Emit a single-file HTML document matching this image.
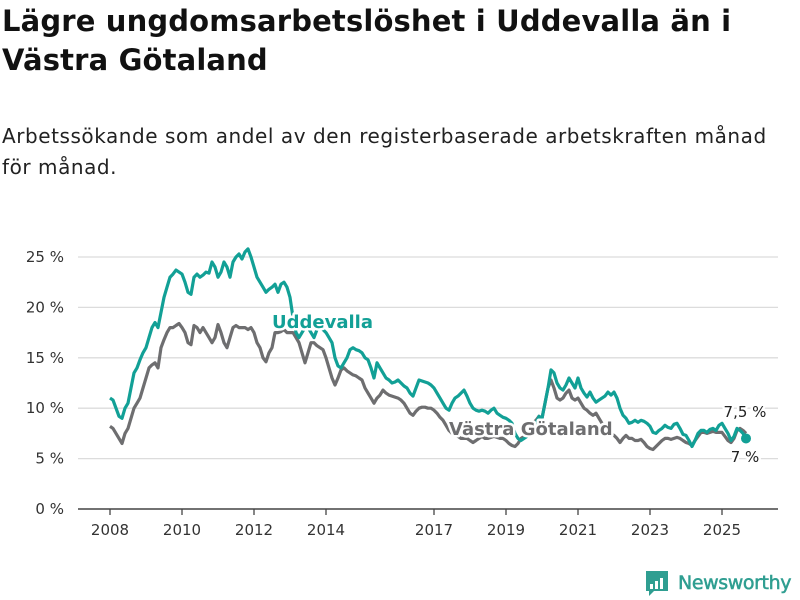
<!DOCTYPE html>
<html><head><meta charset="utf-8">
<style>
body{margin:0;background:#fff;width:800px;height:600px;overflow:hidden;font-family:"Liberation Sans","DejaVu Sans",sans-serif;}
#title{position:absolute;left:2px;top:2px;font-size:29px;font-weight:bold;line-height:39px;color:#111;margin:0;width:790px;font-family:"DejaVu Sans","Liberation Sans",sans-serif;letter-spacing:0.15px}
#subtitle{position:absolute;left:2px;top:121px;font-size:20px;line-height:31px;color:#222;margin:0;width:790px;font-family:"DejaVu Sans","Liberation Sans",sans-serif;letter-spacing:0.55px}
svg{position:absolute;left:0;top:0}
</style></head><body>
<h1 id="title">Lägre ungdomsarbetslöshet i Uddevalla än i Västra Götaland</h1>
<p id="subtitle">Arbetssökande som andel av den registerbaserade arbetskraften månad för månad.</p>
<svg id="chart" width="800" height="600"></svg>
<script>
const startYear = 2008;
const yTicks = [0,5,10,15,20,25];
const xTickYears = [2008,2010,2012,2014,2017,2019,2021,2023,2025];
const uddevalla = [
11,10.8,10,9.2,9,10,10.5,12,13.5,14,14.8,15.5,
16,17,18,18.5,18,19.5,21,22,23,23.3,23.7,23.5,
23.3,22.5,21.5,21.3,23,23.3,23,23.2,23.5,23.4,24.5,24,
23,23.5,24.5,24,23,24.5,25,25.3,24.8,25.5,25.8,25,
24,23,22.5,22,21.5,21.8,22,22.3,21.5,22.3,22.5,22,
21,19,17.5,17,17.5,18,18,17.5,17,17.8,18,17.8,
17.5,17,16.5,15,14.2,14,14.5,15,15.8,16,15.8,15.7,
15.5,15,14.8,14,13,14.5,14,13.5,13,12.8,12.5,12.6,
12.8,12.5,12.2,12,11.5,11.2,12,12.8,12.7,12.6,12.5,12.3,
12,11.5,11,10.5,10,9.8,10.5,11,11.2,11.5,11.8,11.2,
10.5,10,9.8,9.7,9.8,9.7,9.5,9.8,10,9.5,9.3,9.1,
9,8.8,8.5,7.5,7,6.8,7,7.2,7.5,8,8.5,9.2,
9,10.5,12,13.8,13.5,12.5,12,11.8,12.3,13,12.5,12,
13,12,11.5,11.1,11.6,11,10.6,10.8,11,11.2,11.6,11.3,
11.6,11,10,9.3,9,8.5,8.6,8.8,8.6,8.8,8.7,8.5,
8.2,7.6,7.5,7.8,8,8.3,8.1,8,8.4,8.5,8,7.4,
7.3,6.8,6.2,6.8,7.5,7.8,7.8,7.6,7.9,8,7.8,8.3,
8.5,8,7.5,6.8,7.2,8,7.8,7.5,7.0];
const vastraGotaland = [
8.2,8,7.5,7,6.5,7.5,8,9,10,10.5,11,12,
13,14,14.3,14.5,14,16,16.8,17.5,18,18,18.2,18.4,
18,17.5,16.5,16.3,18.2,18,17.5,18,17.5,17,16.5,17,
18.3,17.5,16.5,16,17,18,18.2,18,18,18,17.8,18,
17.5,16.5,16,15,14.6,15.5,16,17.5,17.5,17.6,17.8,17.5,
17.5,17.5,17,16.5,15.5,14.5,15.5,16.5,16.5,16.2,16,15.8,
15,14,13,12.3,13,13.8,14,13.7,13.5,13.3,13.2,13,
12.8,12,11.5,11,10.5,11,11.3,11.8,11.5,11.3,11.2,11.1,
11,10.8,10.5,10,9.5,9.3,9.7,10,10.1,10.1,10,10,
9.8,9.5,9.1,8.8,8.3,7.8,7.5,7.3,7.2,7,7,7,
6.8,6.6,6.8,7,7.2,7,7,7.1,7.2,7.1,7,7,
6.8,6.5,6.3,6.2,6.5,7,7.2,7.5,8,8.5,8.8,9.2,
9,10.5,12,12.8,12,11,10.8,11,11.5,11.8,11,10.8,
11,10.5,10,9.8,9.5,9.3,9.5,9,8.5,8,7.5,7.5,
7.3,7,6.6,7,7.3,7,7,6.8,6.8,6.9,6.6,6.2,
6,5.9,6.2,6.5,6.8,7,7,6.9,7,7.1,7,6.8,
6.6,6.5,6.3,6.8,7.2,7.6,7.6,7.5,7.6,7.7,7.6,7.6,
7.6,7.2,6.8,6.6,7,7.8,8,7.8,7.5];
const endLabels = ["7,5 %","7 %"];

const NS="http://www.w3.org/2000/svg";
const svg=document.getElementById('chart');
const xScale=t=>110+(t-startYear)*36;
const yScale=v=>509-v*10.08;
const TEAL="#12a096", GRAY="#6e6e70";
function mk(tag,attrs,parent){const e=document.createElementNS(NS,tag);for(const k in attrs)e.setAttribute(k,attrs[k]);(parent||svg).appendChild(e);return e;}
yTicks.forEach(v=>{
  const g=mk('line',{x1:78,x2:778,y1:yScale(v),y2:yScale(v),stroke:v===0?'#444':'#dcdcdc','stroke-width':v===0?1.5:1.3});
  
  
  const t=mk('text',{x:64,y:yScale(v)+5,'text-anchor':'end','font-size':15,fill:'#333','font-family':'"DejaVu Sans",sans-serif'});
  t.textContent=v+' %';
  
  
});
xTickYears.forEach(y=>{
  const tk=mk('line',{x1:xScale(y),x2:xScale(y),y1:509,y2:515,stroke:'#444','stroke-width':1.3});
  
  
  const t=mk('text',{x:xScale(y),y:535,'text-anchor':'middle','font-size':15,fill:'#333','font-family':'"DejaVu Sans",sans-serif'});
  t.textContent=y;
  
  
});
function path(arr){return arr.map((v,i)=>(i?'L':'M')+xScale(startYear+i/12).toFixed(1)+','+yScale(v).toFixed(1)).join('');}
const pg=mk('path',{d:path(vastraGotaland),fill:'none',stroke:GRAY,'stroke-width':3.2,'stroke-linejoin':'round'});


const pu=mk('path',{d:path(uddevalla),fill:'none',stroke:TEAL,'stroke-width':3.2,'stroke-linejoin':'round'});


const li=uddevalla.length-1;
const dot=mk('circle',{cx:xScale(startYear+li/12),cy:yScale(uddevalla[li]),r:5,fill:TEAL});


function label(txt,x,y,col,size,weight,anchor,name){
  const t=mk('text',{x:x,y:y,fill:col,'font-size':size,'font-weight':weight,'text-anchor':anchor||'start','font-family':'"DejaVu Sans",sans-serif',stroke:'#fff','stroke-width':5,'paint-order':'stroke','stroke-linejoin':'round'});
  t.textContent=txt;
  
  
}
label('Uddevalla',272,328,TEAL,18,'bold','start','uddevalla-label');
label('Västra Götaland',449,435,GRAY,18,'bold','start','vastra-gotaland-label');
label(endLabels[0],745,417,'#222',15,'normal','middle','vastra-gotaland-end-value');
label(endLabels[1],745,462,'#222',15,'normal','middle','uddevalla-end-value');
const lg=mk('g',{});


mk('path',{d:'M646 571 h22 v20 h-14 l-5 5 v-5 h-3 z',fill:'#2f9e91'},lg);
[[650,584,3,5],[655,581,3,8],[660,578,3,11]].forEach(r=>mk('rect',{x:r[0],y:r[1],width:r[2],height:r[3],fill:'#fff'},lg));
const lt=mk('text',{x:678,y:589,'font-size':19,'font-weight':'normal',fill:'#2f9e91',stroke:'#2f9e91','stroke-width':0.5,'letter-spacing':'-0.4','font-family':'"DejaVu Sans",sans-serif'},lg);
lt.textContent='Newsworthy';
</script>
</body></html>
